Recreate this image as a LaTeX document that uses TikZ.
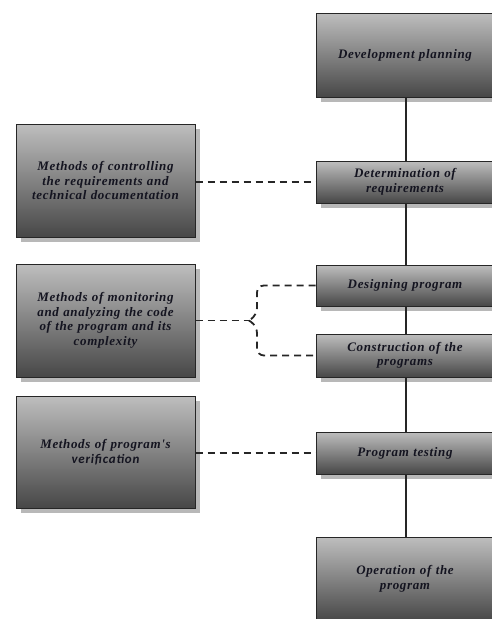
\documentclass[tikz,border=0pt]{standalone}
\usepackage{fontspec}
\setmainfont{Liberation Serif}
\newfontfamily\spaced[LetterSpace=5]{Liberation Serif}
\newfontfamily\vsans[LetterSpace=6]{Carlito}
\usetikzlibrary{shadows}
\definecolor{gtop}{HTML}{BEBEBE}
\definecolor{gbot}{HTML}{474747}
\definecolor{shd}{HTML}{B8B8B8}
\definecolor{txt}{HTML}{141420}
\tikzset{
  gbox/.style={draw=black!85, line width=1pt, top color=gtop, bottom color=gbot,
    drop shadow={shadow xshift=5pt, shadow yshift=-5pt, fill=shd, opacity=1},
    align=center, text=txt, font=\spaced\fontsize{13}{14.5}\selectfont\itshape\bfseries, inner sep=2pt},
  rbox/.style={gbox, minimum width=178pt, text width=174pt},
  lbox/.style={gbox, minimum width=179pt, text width=175pt},
  solidln/.style={line width=1.8pt, black!85},
  dashln/.style={line width=1.8pt, black!85, dash pattern=on 7pt off 5pt},
}
\begin{document}
\begin{tikzpicture}[x=1pt,y=-1pt]
\useasboundingbox (0,0) rectangle (491,619);
% right column
\node[rbox, minimum height=84pt] (dp) at (405,55) {Development planning};
\node[rbox, minimum height=42pt] (det) at (405,182) {Determination of\\requirements};
\node[rbox, minimum height=41pt] (des) at (405,285.5) {Designing program};
\node[rbox, minimum height=43pt] (con) at (405,355.5) {Construction of the\\programs};
\node[rbox, minimum height=42pt] (pt) at (405,453) {Program testing};
\node[rbox, minimum height=84pt] (op) at (405,579) {Operation of the\\program};
% left column
\node[lbox, minimum height=113pt] (m1) at (105.5,180.5) {Methods of controlling\\the requirements and\\technical documentation};
\node[lbox, minimum height=113pt] (m2) at (105.5,320.5) {Methods of monitoring\\and analyzing the code\\of the program and its\\complexity};
\node[lbox, minimum height=112pt] (m3) at (105.5,452) {Methods of program's\\{\vsans\fontsize{13}{14.5}\selectfont verification}};
% solid connectors
\draw[solidln] (dp.south -| 406,0) -- (det.north -| 406,0);
\draw[solidln] (det.south -| 406,0) -- (des.north -| 406,0);
\draw[solidln] (des.south -| 406,0) -- (con.north -| 406,0);
\draw[solidln] (con.south -| 406,0) -- (pt.north -| 406,0);
\draw[solidln] (pt.south -| 406,0) -- (op.north -| 406,0);
% dashed connectors
\draw[dashln] (m1.east |- det.west) -- (det.west);
\draw[dashln] (m3.east |- pt.west) -- (pt.west);
\coordinate (bp) at (249,320.5);
\draw[dashln] (m2.east) -- (bp);
\draw[dashln, rounded corners=7pt] (des.west) -- (257,285.5) -- (257,315) -- (bp);
\draw[dashln, rounded corners=7pt] (bp) -- (257,326) -- (257,355.5) -- (con.west);
\end{tikzpicture}
\end{document}
